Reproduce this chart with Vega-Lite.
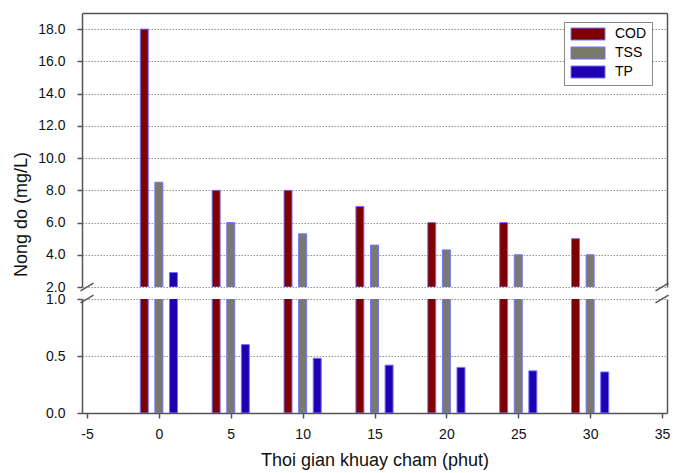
{
  "$schema": "https://vega.github.io/schema/vega-lite/v6.json",
  "padding": {"left": 12, "top": 13, "right": 6, "bottom": 4},
  "background": "white",
  "datasets": {
    "main": [
      {"t": 0, "series": "COD", "value": 18.0},
      {"t": 0, "series": "TSS", "value": 8.5},
      {"t": 0, "series": "TP", "value": 2.9},
      {"t": 5, "series": "COD", "value": 8.0},
      {"t": 5, "series": "TSS", "value": 6.0},
      {"t": 5, "series": "TP", "value": 0.60},
      {"t": 10, "series": "COD", "value": 8.0},
      {"t": 10, "series": "TSS", "value": 5.3},
      {"t": 10, "series": "TP", "value": 0.48},
      {"t": 15, "series": "COD", "value": 7.0},
      {"t": 15, "series": "TSS", "value": 4.6},
      {"t": 15, "series": "TP", "value": 0.42},
      {"t": 20, "series": "COD", "value": 6.0},
      {"t": 20, "series": "TSS", "value": 4.3},
      {"t": 20, "series": "TP", "value": 0.40},
      {"t": 25, "series": "COD", "value": 6.0},
      {"t": 25, "series": "TSS", "value": 4.0},
      {"t": 25, "series": "TP", "value": 0.37},
      {"t": 30, "series": "COD", "value": 5.0},
      {"t": 30, "series": "TSS", "value": 4.0},
      {"t": 30, "series": "TP", "value": 0.36}
    ],
    "breaksTop": [{"t": -5, "v": 2}, {"t": 35, "v": 2}],
    "breaksBottom": [{"t": -5, "v": 1}, {"t": 35, "v": 1}]
  },
  "spacing": 12,
  "bounds": "flush",
  "resolve": {"scale": {"color": "independent"}},
  "vconcat": [
    {
      "width": 585,
      "height": 274,
      "encoding": {
        "x": {
          "field": "t", "type": "quantitative",
          "scale": {"domain": [-5, 35], "nice": false, "zero": false},
          "axis": {"orient": "top", "labels": false, "ticks": false, "grid": false, "title": null, "domain": true}
        }
      },
      "layer": [
        {
          "data": {"name": "main"},
          "transform": [{"filter": "datum.series === 'COD' && datum.value > 2"}],
          "mark": {"type": "bar", "clip": true, "size": 8, "xOffset": -14.6, "stroke": "#7373ff", "strokeWidth": 1},
          "encoding": {
            "y": {
              "field": "value", "type": "quantitative", "stack": null,
              "scale": {"domain": [2, 19], "nice": false, "zero": false},
              "axis": {
                "values": [2, 4, 6, 8, 10, 12, 14, 16, 18],
                "format": ".1f",
                "title": "Nong do (mg/L)",
                "titleY": 201,
                "titlePadding": 7,
                "labelPadding": 12,
                "grid": true
              }
            },
            "color": {
              "field": "series", "type": "nominal",
              "scale": {"domain": ["COD", "TSS", "TP"], "range": ["#7f0000", "#7a7a6a", "#1e00b0"]},
              "legend": {
                "title": null,
                "orient": "none",
                "legendX": 482,
                "legendY": 9,
                "padding": 5,
                "fillColor": "white",
                "strokeColor": "#888888",
                "symbolType": "M-1,-1.2H5.8V1.2H-1Z",
                "symbolSize": 100,
                "symbolStrokeColor": "#5a5aff",
                "symbolStrokeWidth": 1,
                "symbolOpacity": 1,
                "labelOffset": 32,
                "labelFont": "Liberation Sans",
                "labelFontSize": 14,
                "labelColor": "black",
                "rowPadding": 3
              }
            }
          }
        },
        {
          "data": {"name": "main"},
          "transform": [{"filter": "datum.series === 'TSS' && datum.value > 2"}],
          "mark": {"type": "bar", "clip": true, "size": 8, "xOffset": 0, "stroke": "#7373ff", "strokeWidth": 1},
          "encoding": {
            "y": {"field": "value", "type": "quantitative", "stack": null, "axis": null},
            "color": {"field": "series", "type": "nominal"}
          }
        },
        {
          "data": {"name": "main"},
          "transform": [{"filter": "datum.series === 'TP' && datum.value > 2"}],
          "mark": {"type": "bar", "clip": true, "size": 8, "xOffset": 14.6, "stroke": "#7373ff", "strokeWidth": 1},
          "encoding": {
            "y": {"field": "value", "type": "quantitative", "stack": null, "axis": null},
            "color": {"field": "series", "type": "nominal"}
          }
        },
        {
          "data": {"name": "breaksTop"},
          "mark": {"type": "point", "shape": "M-1,0.6L1,-0.6", "size": 169, "filled": false, "stroke": "#555555", "strokeWidth": 1.5, "opacity": 1},
          "encoding": {
            "y": {
              "field": "v", "type": "quantitative",
              "axis": {"orient": "right", "labels": false, "ticks": false, "grid": false, "title": null, "domain": true}
            }
          }
        }
      ],
      "resolve": {"axis": {"y": "independent"}}
    },
    {
      "width": 585,
      "height": 114,
      "encoding": {
        "x": {
          "field": "t", "type": "quantitative",
          "scale": {"domain": [-5, 35], "nice": false, "zero": false},
          "axis": {
            "values": [-5, 0, 5, 10, 15, 20, 25, 30, 35],
            "labelExpr": "'' + datum.value",
            "title": "Thoi gian khuay cham (phut)",
            "grid": false,
            "labelPadding": 9,
            "titlePadding": 10
          }
        }
      },
      "layer": [
        {
          "data": {"name": "main"},
          "transform": [{"filter": "datum.series === 'COD'"}],
          "mark": {"type": "bar", "clip": true, "size": 8, "xOffset": -14.6, "stroke": "#7373ff", "strokeWidth": 1},
          "encoding": {
            "y": {
              "field": "value", "type": "quantitative", "stack": null,
              "scale": {"domain": [0, 1], "nice": false, "zero": false},
              "axis": {
                "values": [0, 0.5, 1],
                "format": ".1f",
                "title": null,
                "labelPadding": 12,
                "grid": true
              }
            },
            "color": {
              "field": "series", "type": "nominal",
              "scale": {"domain": ["COD", "TSS", "TP"], "range": ["#7f0000", "#7a7a6a", "#1e00b0"]},
              "legend": null
            }
          }
        },
        {
          "data": {"name": "main"},
          "transform": [{"filter": "datum.series === 'TSS'"}],
          "mark": {"type": "bar", "clip": true, "size": 8, "xOffset": 0, "stroke": "#7373ff", "strokeWidth": 1},
          "encoding": {
            "y": {"field": "value", "type": "quantitative", "stack": null, "axis": null},
            "color": {"field": "series", "type": "nominal", "legend": null}
          }
        },
        {
          "data": {"name": "main"},
          "transform": [{"filter": "datum.series === 'TP'"}],
          "mark": {"type": "bar", "clip": true, "size": 8, "xOffset": 14.6, "stroke": "#7373ff", "strokeWidth": 1},
          "encoding": {
            "y": {"field": "value", "type": "quantitative", "stack": null, "axis": null},
            "color": {"field": "series", "type": "nominal", "legend": null}
          }
        },
        {
          "data": {"name": "breaksBottom"},
          "mark": {"type": "point", "shape": "M-1,0.6L1,-0.6", "size": 169, "filled": false, "stroke": "#555555", "strokeWidth": 1.5, "opacity": 1},
          "encoding": {
            "y": {
              "field": "v", "type": "quantitative",
              "axis": {"orient": "right", "labels": false, "ticks": false, "grid": false, "title": null, "domain": true}
            }
          }
        }
      ],
      "resolve": {"axis": {"y": "independent"}}
    }
  ],
  "config": {
    "view": {"stroke": null},
    "axis": {
      "labelFont": "Liberation Sans",
      "labelFontSize": 14,
      "labelColor": "#111111",
      "titleFont": "Liberation Sans",
      "titleFontSize": 18,
      "titleFontWeight": "normal",
      "titleColor": "#111111",
      "domainColor": "#555555",
      "domainWidth": 1.5,
      "tickColor": "#555555",
      "tickWidth": 1.5,
      "tickSize": 5,
      "gridColor": "#777777",
      "gridDash": [1.5, 1.5],
      "gridWidth": 0.8
    }
  }
}
